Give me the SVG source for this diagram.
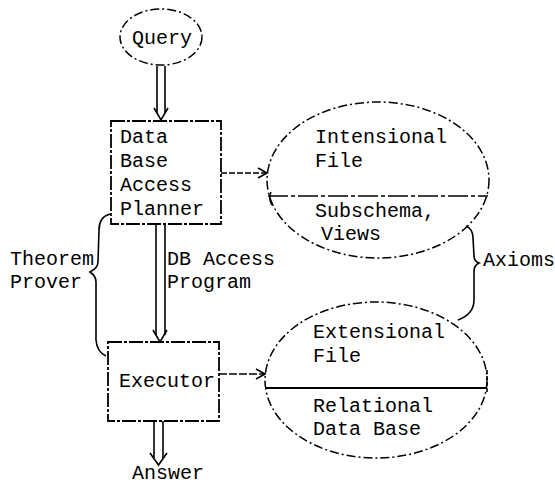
<svg xmlns="http://www.w3.org/2000/svg" width="555" height="485" viewBox="0 0 555 485">
<style>
.t{font-family:"Liberation Mono","DejaVu Sans Mono",monospace;font-size:20px;fill:#000}
.sol{fill:none;stroke:#000;stroke-width:1.6}
.dsh{fill:none;stroke:#000;stroke-width:1.5;stroke-dasharray:9 3 2 3}
.box{fill:none;stroke:#000;stroke-width:1.8;stroke-dasharray:14 2 3 2}
</style>
<rect width="555" height="485" fill="#fff"/>
<g id="query">
<ellipse class="dsh" cx="161" cy="37" rx="41" ry="28"/>
<text class="t" x="132" y="44">Query</text>
</g>
<g id="planner">
<rect class="box" x="111" y="121" width="110" height="103"/>
<text class="t" x="120" y="143">Data</text>
<text class="t" x="120" y="167">Base</text>
<text class="t" x="120" y="191">Access</text>
<text class="t" x="120" y="215">Planner</text>
</g>
<g id="executor">
<rect class="box" x="108" y="342" width="111" height="79"/>
<text class="t" x="119" y="387">Executor</text>
</g>
<g id="intensional">
<ellipse class="dsh" cx="378" cy="180" rx="111" ry="78"/>
<line class="sol" x1="268" y1="196" x2="488" y2="196" stroke-dasharray="20 3 4 3"/>
<path class="sol" d="M271 192 Q268 198 272 205"/>
<text class="t" x="315" y="143">Intensional</text>
<text class="t" x="315" y="167">File</text>
<text class="t" x="315" y="217">Subschema,</text>
<text class="t" x="321" y="240">Views</text>
</g>
<g id="extensional">
<ellipse class="dsh" cx="376" cy="380" rx="111" ry="78"/>
<line x1="266" y1="388" x2="487" y2="388" stroke="#000" stroke-width="2.2"/>
<line class="sol" x1="487" y1="370" x2="487" y2="392" stroke-dasharray="4 2"/>
<text class="t" x="313" y="338">Extensional</text>
<text class="t" x="313" y="362">File</text>
<text class="t" x="313" y="412">Relational</text>
<text class="t" x="313" y="435">Data Base</text>
</g>
<g id="labels">
<text class="t" x="10" y="265">Theorem</text>
<text class="t" x="10" y="288">Prover</text>
<text class="t" x="167" y="265">DB Access</text>
<text class="t" x="167" y="288">Program</text>
<text class="t" x="483" y="266">Axioms</text>
<text class="t" x="132" y="479">Answer</text>
</g>
<g id="connectors">
<line class="sol" x1="157" y1="66" x2="157" y2="113"/>
<line class="sol" x1="165" y1="66" x2="165" y2="113"/>
<path class="sol" d="M154 108 L161 120 L168 108"/>
<line class="sol" x1="156" y1="224" x2="156" y2="335"/>
<line class="sol" x1="165" y1="224" x2="165" y2="335"/>
<path class="sol" d="M153 330 L160 342 L167 330"/>
<line class="sol" x1="154" y1="421" x2="154" y2="458"/>
<line class="sol" x1="163" y1="421" x2="163" y2="458"/>
<path class="sol" d="M150 453 L158.5 465 L167 453"/>
<line class="sol" x1="221" y1="173" x2="266" y2="173" stroke-dasharray="6 2"/>
<path class="sol" d="M258 168 L267 173 L258 178"/>
<line class="sol" x1="219" y1="374" x2="264" y2="374" stroke-dasharray="8 2"/>
<path class="sol" d="M256 369 L265 374 L256 379"/>
<path class="sol" d="M110 214 Q99 217 99 230 L98 262 Q98 268 90 272 Q96 276 96 282 L96 340 Q97 352 106 356"/>
<path class="sol" d="M466 226 Q473 229 473 238 L474 256 Q474 261 479 263 Q474 265 474 272 L474 300 Q474 314 458 320"/>
</g>
</svg>
